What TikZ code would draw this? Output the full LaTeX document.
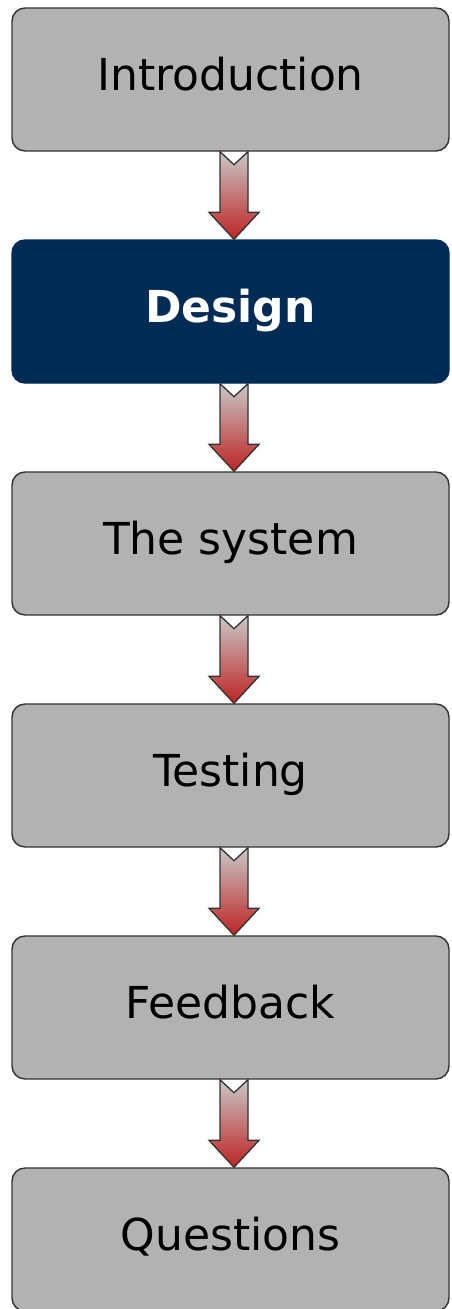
\documentclass[tikz,border=0pt]{standalone}
\usepackage{fontspec}
\setmainfont{DejaVu Sans}
\usepackage{tikz}
\usetikzlibrary{calc}

\definecolor{boxgrey}{RGB}{178,178,178}
\definecolor{boxline}{RGB}{50,50,50}
\definecolor{navy}{RGB}{0,43,84}
\definecolor{arrowgrey}{RGB}{200,200,200}
\definecolor{arrowmid}{RGB}{170,145,145}
\definecolor{arrowred}{RGB}{190,35,35}

\newcommand{\flowarrow}[2]{%
  \draw[flow] let \p1=($(#1.south)+(3.5pt,0)$), \p2=(#2.north) in
    (\x1-14pt,\y1) -- (\x1,\y1-13pt) -- (\x1+14pt,\y1) -- (\x1+14pt,\y2+27pt)
    -- (\x1+25pt,\y2+27pt) -- (\x1,\y2) -- (\x1-25pt,\y2+27pt)
    -- (\x1-14pt,\y2+27pt) -- cycle;}

\begin{document}
\begin{tikzpicture}[x=1pt, y=-1pt, node distance=232pt,
    main/.style={draw=boxline, line width=1.4pt, fill=boxgrey, rounded corners=13pt,
      minimum width=437pt, minimum height=143pt,
      font=\fontsize{44}{50}\selectfont, text height=33pt, text depth=11pt},
    current/.style={main, fill=navy, draw=navy, text=white, font=\fontsize{44}{50}\selectfont\bfseries},
    flow/.style={draw=boxline, line width=1.3pt, line join=miter,
      top color=arrowgrey, middle color=arrowmid, bottom color=arrowred}]
        \useasboundingbox (0,0) rectangle (451,1309);
        \node[main] (1) at (230.5,79.5) {Introduction};
        \node[current] (2) [below of=1] {Design};
        \node[main] (3) [below of=2] {The system};
        \node[main] (4) [below of=3] {Testing};
        \node[main] (5) [below of=4] {Feedback};
        \node[main] (6) [below of=5] {Questions};
        \flowarrow{1}{2}
        \flowarrow{2}{3}
        \flowarrow{3}{4}
        \flowarrow{4}{5}
        \flowarrow{5}{6}
    \end{tikzpicture}
\end{document}
